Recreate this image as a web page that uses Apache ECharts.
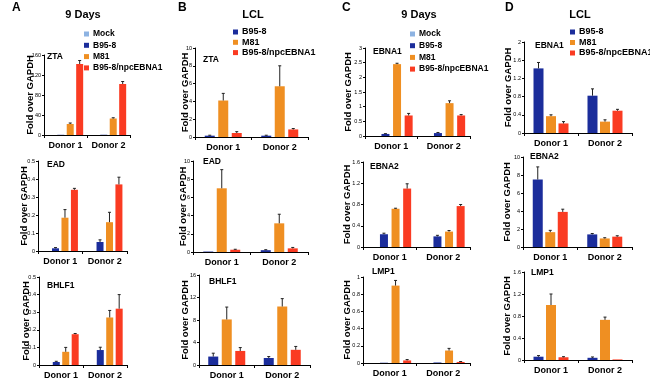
<!DOCTYPE html>
<html>
<head>
<meta charset="utf-8">
<script src="https://cdn.jsdelivr.net/npm/echarts@6/dist/echarts.min.js"></script>
<style>
  html, body { margin: 0; padding: 0; background: #fff; }
  #chart { width: 650px; height: 382px; }
</style>
</head>
<body>
<div id="chart"></div>
<script>
// categories / groups
var donors = ['Donor 1', 'Donor 2'];
var groups9d = ['Mock', 'B95-8', 'M81', 'B95-8/npcEBNA1'];
var groupsLCL = ['B95-8', 'M81', 'B95-8/npcEBNA1'];

// values: one row per group, [Donor 1, Donor 2]
// A - 9 days
var aZta = [[0, 0], [0.4, 0.5], [22, 33], [142, 102]];
var aZtaErr = [[0, 0], [0, 0], [2, 1.5], [7, 5]];
var aEad = [[0, 0], [0.015, 0.05], [0.185, 0.16], [0.34, 0.37]];
var aEadErr = [[0, 0], [0.004, 0.012], [0.045, 0.055], [0.008, 0.04]];
var aBhlf1 = [[0, 0], [0.017, 0.085], [0.075, 0.27], [0.175, 0.32]];
var aBhlf1Err = [[0, 0], [0.004, 0.016], [0.025, 0.04], [0.004, 0.08]];
// B - LCL
var bZta = [[0.15, 0.15], [4.1, 5.7], [0.45, 0.85]];
var bZtaErr = [[0.05, 0.05], [0.8, 2.3], [0.15, 0.1]];
var bEad = [[0.05, 0.2], [7.0, 3.15], [0.25, 0.4]];
var bEadErr = [[0, 0.05], [2.05, 1.0], [0.05, 0.1]];
var bBhlf1 = [[1.5, 1.25], [8.1, 10.4], [2.5, 2.7]];
var bBhlf1Err = [[0.6, 0.25], [2.2, 1.4], [0.6, 0.6]];
// C - 9 days
var cEbna1 = [[0, 0], [0.07, 0.1], [2.45, 1.12], [0.7, 0.7]];
var cEbna1Err = [[0, 0], [0.01, 0.02], [0.03, 0.08], [0.07, 0.03]];
var cEbna2 = [[0, 0], [0.24, 0.2], [0.72, 0.29], [1.1, 0.77]];
var cEbna2Err = [[0, 0], [0.02, 0.02], [0.01, 0.02], [0.09, 0.03]];
var cLmp1 = [[0, 0], [0.003, 0.006], [0.9, 0.145], [0.03, 0.012]];
var cLmp1Err = [[0, 0], [0, 0], [0.06, 0.025], [0.01, 0.005]];
// D - LCL
var dEbna1 = [[1.42, 0.82], [0.37, 0.25], [0.21, 0.49]];
var dEbna1Err = [[0.13, 0.15], [0.03, 0.04], [0.04, 0.03]];
var dEbna2 = [[7.5, 1.4], [1.65, 0.95], [3.9, 1.15]];
var dEbna2Err = [[1.4, 0.1], [0.2, 0.08], [0.3, 0.1]];
var dLmp1 = [[0.06, 0.04], [1.0, 0.73], [0.05, 0.01]];
var dLmp1Err = [[0.02, 0.015], [0.2, 0.05], [0.01, 0]];

// y axis ticks per panel (max, step), order A,B,C,D per row
var yMax = [160, 10, 3, 2, 0.5, 10, 1.6, 10, 0.5, 16, 1, 1.6];
var yStep = [40, 2, 0.5, 0.4, 0.1, 2, 0.4, 2, 0.1, 4, 0.2, 0.4];

var colors = {
  'Mock': '#8db3e2',
  'B95-8': '#1b2d9b',
  'M81': '#ef8f22',
  'B95-8/npcEBNA1': '#fa3b22'
};
var FONT = 'Liberation Sans, Arial, sans-serif';

var panels = [
  {gene: 'ZTA', data: aZta, err: aZtaErr, names: groups9d},
  {gene: 'ZTA', data: bZta, err: bZtaErr, names: groupsLCL},
  {gene: 'EBNA1', data: cEbna1, err: cEbna1Err, names: groups9d},
  {gene: 'EBNA1', data: dEbna1, err: dEbna1Err, names: groupsLCL},
  {gene: 'EAD', data: aEad, err: aEadErr, names: groups9d},
  {gene: 'EAD', data: bEad, err: bEadErr, names: groupsLCL},
  {gene: 'EBNA2', data: cEbna2, err: cEbna2Err, names: groups9d},
  {gene: 'EBNA2', data: dEbna2, err: dEbna2Err, names: groupsLCL},
  {gene: 'BHLF1', data: aBhlf1, err: aBhlf1Err, names: groups9d},
  {gene: 'BHLF1', data: bBhlf1, err: bBhlf1Err, names: groupsLCL},
  {gene: 'LMP1', data: cLmp1, err: cLmp1Err, names: groups9d},
  {gene: 'LMP1', data: dLmp1, err: dLmp1Err, names: groupsLCL}
];

// layout: grid box (l,t,r,b), gene label pos, bar width, gap ratio, y-name gap
var layout = [
  {l: 44, t: 55, r: 130, b: 135, gx: 47, gy: 57, bw: 7, gap: 0.35, ng: 9},
  {l: 195, t: 48, r: 308, b: 137, gx: 203, gy: 60, bw: 10, gap: 0.35, ng: 5},
  {l: 365, t: 48, r: 470, b: 136, gx: 373, gy: 52, bw: 8, gap: 0.45, ng: 12},
  {l: 524, t: 42, r: 632, b: 133, gx: 535, gy: 46, bw: 10, gap: 0.25, ng: 11},
  {l: 38, t: 161, r: 127, b: 251, gx: 47, gy: 165, bw: 7, gap: 0.35, ng: 9},
  {l: 193, t: 161, r: 308, b: 252, gx: 203, gy: 162, bw: 10, gap: 0.35, ng: 5},
  {l: 363, t: 162, r: 470, b: 247, gx: 370, gy: 167, bw: 8, gap: 0.45, ng: 11},
  {l: 523, t: 157, r: 632, b: 247, gx: 530, gy: 157, bw: 10, gap: 0.25, ng: 11},
  {l: 39, t: 277, r: 127, b: 365, gx: 47, gy: 286, bw: 7, gap: 0.35, ng: 8},
  {l: 199, t: 275, r: 310, b: 365, gx: 209, gy: 282, bw: 10, gap: 0.35, ng: 9},
  {l: 363, t: 277, r: 470, b: 363, gx: 372, gy: 272, bw: 8, gap: 0.45, ng: 11},
  {l: 524, t: 272, r: 632, b: 360, gx: 531, gy: 273, bw: 10, gap: 0.25, ng: 12}
];

var grid = [], xAxis = [], yAxis = [], series = [];
var graphic = [];

panels.forEach(function (p, i) {
  var L = layout[i];
  grid.push({left: L.l, top: L.t, width: L.r - L.l, height: L.b - L.t});
  xAxis.push({
    type: 'category', gridIndex: i, data: donors,
    axisLine: {lineStyle: {color: '#000', width: 1}},
    axisTick: {show: true, length: 3, lineStyle: {color: '#000'}},
    axisLabel: {color: '#000', fontSize: 9, fontWeight: 'bold', fontFamily: FONT,
      margin: 6, interval: 0, hideOverlap: false}
  });
  yAxis.push({
    type: 'value', gridIndex: i, min: 0, max: yMax[i], interval: yStep[i],
    name: 'Fold over GAPDH', nameLocation: 'middle', nameRotate: 90, nameGap: L.ng,
    nameMoveOverlap: false,
    nameTextStyle: {color: '#000', fontSize: 9.5, fontWeight: 'bold', fontFamily: FONT},
    splitLine: {show: false},
    axisLine: {show: true, lineStyle: {color: '#000', width: 1}},
    axisTick: {show: true, length: 2, lineStyle: {color: '#000'}},
    axisLabel: {color: '#000', fontSize: 5.5, fontFamily: FONT, margin: 3}
  });

  var n = p.names.length;
  p.names.forEach(function (name, si) {
    series.push({
      name: name, type: 'bar', xAxisIndex: i, yAxisIndex: i,
      barWidth: L.bw, barGap: (L.gap * 100) + '%',
      itemStyle: {color: colors[name]},
      data: p.data[si],
      silent: true
    });
  });

  // error bars (upper only)
  var errData = [];
  p.names.forEach(function (name, si) {
    for (var c = 0; c < donors.length; c++) {
      errData.push([c, p.data[si][c], p.err[si][c], si]);
    }
  });
  series.push({
    type: 'custom', xAxisIndex: i, yAxisIndex: i, silent: true, z: 5,
    data: errData,
    renderItem: (function (bw, gap, n) {
      return function (params, api) {
        var c = api.value(0), v = api.value(1), e = api.value(2), si = api.value(3);
        if (!(e > 0)) return;
        var base = api.coord([c, v]);
        var top = api.coord([c, v + e]);
        var x = base[0] + (si - (n - 1) / 2) * bw * (1 + gap);
        var cap = 1.5;
        return {
          type: 'group',
          children: [
            {type: 'line', shape: {x1: x, y1: base[1], x2: x, y2: top[1]},
             style: {stroke: '#222', lineWidth: 1}},
            {type: 'line', shape: {x1: x - cap, y1: top[1], x2: x + cap, y2: top[1]},
             style: {stroke: '#222', lineWidth: 1}}
          ]
        };
      };
    })(L.bw, L.gap, n)
  });

  graphic.push({
    type: 'text', left: L.gx, top: L.gy - 5,
    style: {text: p.gene, fill: '#000', font: 'bold 8.5px ' + FONT}
  });
});

// panel letters and titles
var heads = [
  {letter: 'A', lx: 12, title: '9 Days', tx: 83},
  {letter: 'B', lx: 178, title: 'LCL', tx: 253},
  {letter: 'C', lx: 342, title: '9 Days', tx: 419},
  {letter: 'D', lx: 505, title: 'LCL', tx: 580}
];
heads.forEach(function (h) {
  graphic.push({type: 'text', left: h.lx, top: 2,
    style: {text: h.letter, fill: '#000', font: 'bold 12px ' + FONT}});
  graphic.push({type: 'text', x: h.tx, y: 15,
    style: {text: h.title, fill: '#000', font: 'bold 11px ' + FONT,
      textAlign: 'center', textVerticalAlign: 'middle'}});
});

function legendAt(left, top, names, gap, size) {
  return {
    orient: 'vertical', left: left, top: top, data: names, padding: 0,
    icon: 'rect', itemWidth: 5, itemHeight: 5, itemGap: gap, selectedMode: false,
    textStyle: {color: '#000', fontSize: size, fontWeight: 'bold', fontFamily: FONT,
      padding: [0, 0, 0, -1], lineHeight: 10}
  };
}

var option = {
  animation: false,
  backgroundColor: '#fff',
  grid: grid,
  xAxis: xAxis,
  yAxis: yAxis,
  legend: [
    legendAt(84, 29, groups9d, 1.3, 8.5),
    legendAt(233, 27, groupsLCL, 0.3, 9),
    legendAt(410, 29, groups9d, 1.7, 8.5),
    legendAt(570, 27, groupsLCL, 0.5, 9)
  ],
  graphic: graphic,
  series: series
};

var myChart = echarts.init(document.getElementById('chart'));
myChart.setOption(option);
</script>
</body>
</html>
